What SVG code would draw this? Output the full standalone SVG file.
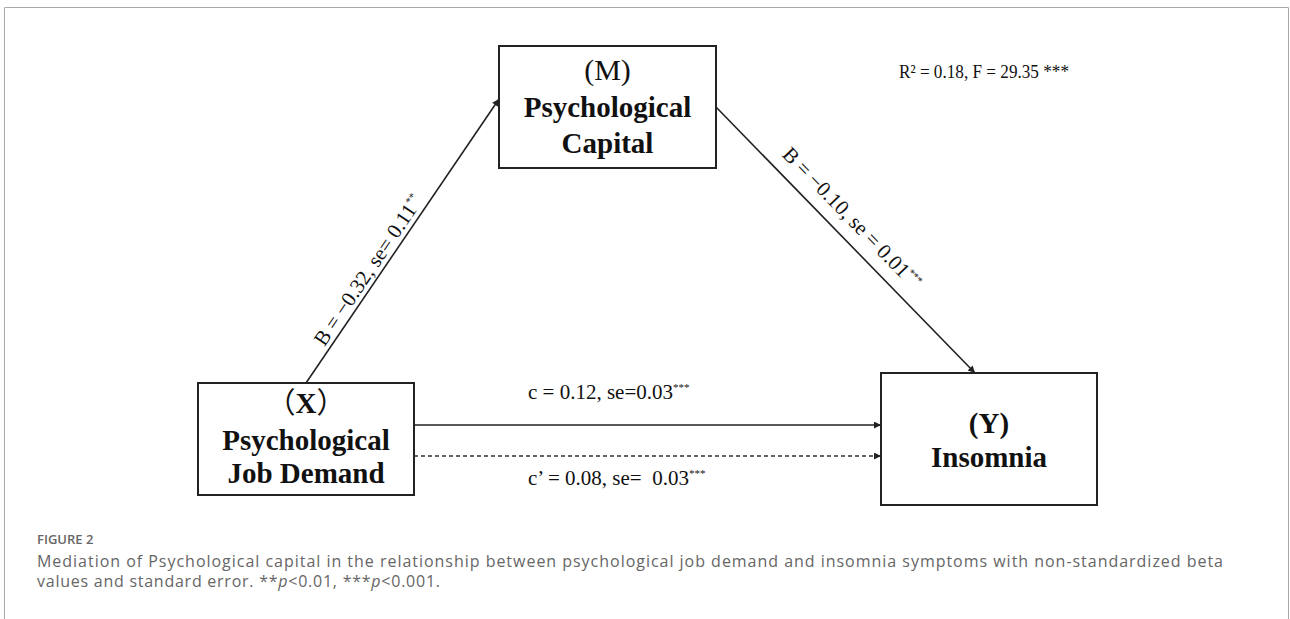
<svg xmlns="http://www.w3.org/2000/svg" width="1290" height="619" viewBox="0 0 1290 619">
<defs>
<style>
.box{fill:#fff;stroke:#222;stroke-width:2}
.ln{stroke:#222;stroke-width:1.6;fill:none}
.dash{stroke:#333;stroke-width:1.6;fill:none;stroke-dasharray:4 3}
.t{font-family:"Liberation Serif","Times New Roman",serif;fill:#111}
.nb{font-size:29px;font-weight:bold;text-anchor:middle}
.nr{font-size:30px;text-anchor:middle}
.lab{font-size:21px}
.sup{font-size:11px}
.cap{font-family:"Open Sans","Noto Sans",sans-serif;fill:#666}
</style>
<marker id="ah" viewBox="0 0 10 10" refX="10" refY="5" markerWidth="9" markerHeight="7" markerUnits="userSpaceOnUse" orient="auto">
<path d="M0,0 L10,5 L0,10 z" fill="#222"/>
</marker>
</defs>
<rect width="1290" height="619" fill="#fff"/>
<path d="M4.5,625 V7.5 H1288.5 V625" fill="none" stroke="#aaa" stroke-width="1"/>

<g id="connectors">
<line class="ln" x1="306" y1="383" x2="499" y2="99" marker-end="url(#ah)"/>
<line class="ln" x1="716" y1="107" x2="975" y2="373" marker-end="url(#ah)"/>
<line class="ln" x1="414" y1="425" x2="881" y2="425" marker-end="url(#ah)"/>
<line class="dash" x1="414" y1="456" x2="881" y2="456" marker-end="url(#ah)"/>
<text class="t lab" text-anchor="middle" transform="translate(374,274) rotate(-55.9)">B = −0.32, se= 0.11<tspan class="sup" dy="-8">**</tspan></text>
<text class="t lab" text-anchor="middle" transform="translate(847,223) rotate(45.8)">B = −0.10, se = 0.01<tspan class="sup" dy="-8">***</tspan></text>
<text class="t lab" x="528" y="399">c = 0.12, se=0.03<tspan class="sup" dy="-8">***</tspan></text>
<text class="t lab" x="528" y="485" xml:space="preserve">c’ = 0.08, se=  0.03<tspan class="sup" dy="-8">***</tspan></text>
</g>

<g id="node-M">
<rect class="box" x="499" y="46" width="217" height="122"/>
<text class="t nr" x="607.5" y="80">(M)</text>
<text class="t nb" x="607.5" y="117">Psychological</text>
<text class="t nb" x="607.5" y="153">Capital</text>
</g>

<g id="node-X">
<rect class="box" x="198" y="383" width="216" height="112"/>
<text class="t nb" x="306" y="413"><tspan font-family="Noto Sans CJK SC" font-weight="normal">（</tspan>X<tspan font-family="Noto Sans CJK SC" font-weight="normal">）</tspan></text>
<text class="t nb" x="306" y="450">Psychological</text>
<text class="t nb" x="306" y="483">Job Demand</text>
</g>

<g id="node-Y">
<rect class="box" x="881" y="373" width="216" height="132"/>
<text class="t nb" x="989" y="433">(Y)</text>
<text class="t nb" x="989" y="467">Insomnia</text>
</g>

<g id="stats">
<text class="t" x="899" y="78" font-size="19" textLength="170" lengthAdjust="spacingAndGlyphs">R² = 0.18, F = 29.35 ***</text>
</g>

<g id="caption">
<text class="cap" x="37" y="544" font-size="13" font-weight="600" fill="#555">FIGURE 2</text>
<text class="cap" x="37" y="567" font-size="16" textLength="1186">Mediation of Psychological capital in the relationship between psychological job demand and insomnia symptoms with non-standardized beta</text>
<text class="cap" x="37" y="587" font-size="16" textLength="403">values and standard error. **<tspan font-style="italic">p</tspan>&lt;0.01, ***<tspan font-style="italic">p</tspan>&lt;0.001.</text>
</g>
</svg>
